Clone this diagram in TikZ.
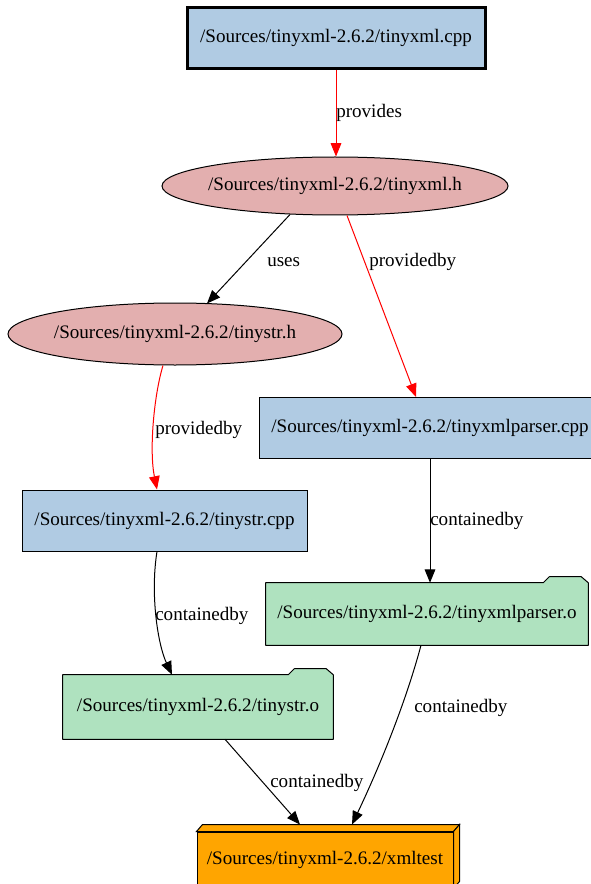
\documentclass[tikz,border=0pt]{standalone}
\usepackage{fontspec}
\setmainfont{Liberation Serif}
\usepackage{tikz}
\usetikzlibrary{positioning, arrows.meta, shapes.geometric, calc, backgrounds}

\definecolor{srcblue}{HTML}{B0CBE3}
\definecolor{hdrpink}{HTML}{E3AFAF}
\definecolor{objgreen}{HTML}{AFE2BF}
\definecolor{exeorange}{HTML}{FFA500}

\begin{document}
\begin{tikzpicture}[
  x=0.75pt, y=-0.75pt,
  font=\fontsize{14.3pt}{16pt}\selectfont,
  srcbox/.style={draw, fill=srcblue, line width=0.75pt, inner sep=0pt,
    minimum height=45.75pt},
  hdrell/.style={draw, ellipse, fill=hdrpink, line width=0.75pt,
    inner xsep=-60pt, inner ysep=-15pt},
  objfolder/.style={inner sep=0pt},
  folder/.style={draw, fill=objgreen, line width=0.75pt, line join=round},
  exebox/.style={draw, fill=exeorange, line width=0.75pt, inner sep=0pt},
  lbl/.style={anchor=west, inner sep=0pt},
  arrow/.style={-{Triangle[length=10pt, width=8pt]}, line width=0.75pt},
  redarrow/.style={arrow, red},
]
  \useasboundingbox (0,0) rectangle (591,884);
  \clip (0,0) rectangle (591,884);

  \node[srcbox, line width=2.25pt, minimum width=223.5pt] (xmlcpp) at (336,38)
    {/Sources/tinyxml-2.6.2/tinyxml.cpp};
  \node[hdrell, minimum width=259.5pt, minimum height=43.5pt] (xmlh) at (335,186)
    {/Sources/tinyxml-2.6.2/tinyxml.h};
  \node[hdrell, minimum width=250.5pt, minimum height=46.5pt] (strh) at (175,334)
    {/Sources/tinyxml-2.6.2/tinystr.h};
  \node[srcbox, minimum width=256.5pt] (parsercpp) at (430,428)
    {/Sources/tinyxml-2.6.2/tinyxmlparser.cpp};
  \node[srcbox, minimum width=213.75pt] (strcpp) at (164.5,520.5)
    {/Sources/tinyxml-2.6.2/tinystr.cpp};
  \node[objfolder, minimum width=241.5pt, minimum height=46.5pt] (parsero) at (427,614)
    {/Sources/tinyxml-2.6.2/tinyxmlparser.o};
  \node[objfolder, minimum width=202.5pt, minimum height=48pt] (stro) at (198,707)
    {/Sources/tinyxml-2.6.2/tinystr.o};
  \node[exebox, minimum width=192pt, minimum height=42pt] (xmltest) at (325,860)
    {/Sources/tinyxml-2.6.2/xmltest};

  \begin{scope}[on background layer]
    \foreach \obj in {parsero, stro}
      \draw[folder] (\obj.south west) -- (\obj.north west)
        -- ($(\obj.north east)+(-45,0)$) -- ++(6,-6)
        -- ($(\obj.north east)+(-7,-6)$) -- (\obj.north east)
        -- (\obj.south east) -- cycle;
  \end{scope}

  \draw[exebox] (xmltest.north west) -- ++(6,-7) -- ($(xmltest.north east)+(6,-7)$)
    -- (xmltest.north east) -- cycle;
  \draw[exebox] (xmltest.north east) -- ++(6,-7) -- ($(xmltest.south east)+(6,-7)$)
    -- (xmltest.south east) -- cycle;

  \draw[redarrow] (xmlcpp.south) -- (xmlcpp.south |- xmlh.north);
  \node[lbl] (lprov) at (336,113) {provides};

  \draw[arrow] ($(xmlh.south)+(-45,-1)$) -- ($(strh.north)+(32,1)$);
  \node[lbl] (luses) at (267,262) {uses};

  \draw[redarrow] ($(xmlh.south)+(12,0)$) -- ($(parsercpp.north)+(-14,0)$);
  \node[lbl] (lprovbyA) at (369,262) {providedby};

  \draw[redarrow] ($(strh.south)+(-12,0)$) .. controls (154,395) and (149,450)
    .. ($(strcpp.north)+(-7.5,0)$);
  \node[lbl] (lprovbyB) at (155,430) {providedby};

  \draw[arrow] (parsercpp.south) -- (parsercpp.south |- parsero.north);
  \node[lbl] (lcontA) at (430,521) {containedby};

  \draw[arrow] ($(strcpp.south)+(-7.5,0)$) .. controls (150,595) and (158,645)
    .. ($(stro.north)+(-26,0)$);
  \node[lbl] (lcontB) at (155,616) {containedby};

  \draw[arrow] ($(parsero.south)+(-6,0)$) .. controls (405,705) and (378,770)
    .. ($(xmltest.north)+(27,-7)$);
  \node[lbl] (lcontC) at (414,708) {containedby};

  \draw[arrow] ($(stro.south)+(27,0)$) -- ($(xmltest.north)+(-25,-7)$);
  \node[lbl] (lcontD) at (270,783) {containedby};
\end{tikzpicture}
\end{document}
